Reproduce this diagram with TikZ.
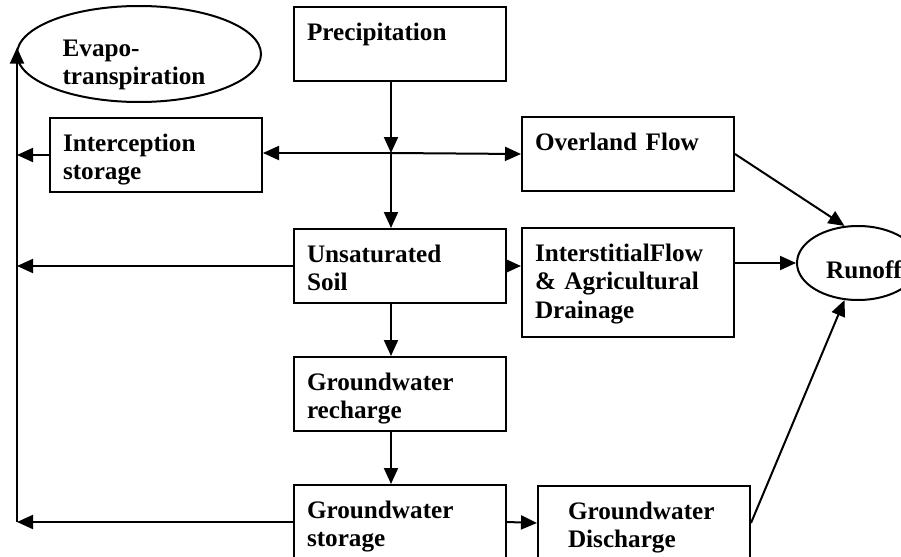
\documentclass[tikz,border=0pt]{standalone}
\usepackage{fontspec}
\setmainfont{Liberation Serif}
\usetikzlibrary{positioning}
\usetikzlibrary{shapes.geometric}
\usetikzlibrary{arrows.meta}

\begin{document}
\begin{tikzpicture}[x=0.5pt, y=-0.5pt, line width=1pt, >={Triangle[length=8pt, width=7pt]},
	every node/.style={font=\fontsize{12.6}{14.4}\selectfont\bfseries},
	stage/.style={draw, rectangle, anchor=north west, align=left, text width=93pt, inner xsep=6.5pt, inner ysep=0pt, text height=16.5pt, text depth=20.5pt},
	bubble/.style={draw, ellipse, inner sep=0pt}]
					\useasboundingbox (0, 0) rectangle (901, 557);
					\clip (0, 0) rectangle (901, 557);
					\node[bubble, minimum width=122pt, minimum height=48pt, label={[align=left, xshift=-2.5pt, yshift=-5.5pt]center:Evapo-\\transpiration}] (evap) at (139, 54) {};
					\node[stage] (prec) at (293, 6) {Precipitation};
					\node[stage] (icpt) at (49, 117) {Interception\\storage};
					\node[stage] (over) at (521, 116) {Overland Flow};
					\node[stage] (unsat) at (293, 228) {Unsaturated\\Soil};
					\node[stage, text depth=38pt] (inter) at (521, 227) {InterstitialFlow\\\& Agricultural\\Drainage};
					\node[stage] (rech) at (293, 356) {Groundwater\\recharge};
					\node[stage] (store) at (293, 484) {Groundwater\\storage};
					\node[stage, text width=76pt, inner xsep=15pt] (disch) at (537, 485) {Groundwater\\Discharge};
					\node[bubble, minimum width=61pt, minimum height=37pt, label={[xshift=3pt, yshift=-3.5pt]center:Runoff}] (runoff) at (858, 263) {};
					\coordinate (jn) at (391, 153);
					\coordinate (base) at (17, 522);
					\draw[->] (jn |- prec.south) -- (jn);
					\draw[->] (jn) -- (jn |- unsat.north);
					\draw[->] (jn) -- (jn -| icpt.east);
					\draw[->] (jn) -- (over.west);
					\draw[->] (over.east) -- (runoff.110);
					\draw[->] (unsat.east) -- (unsat.east -| inter.west);
					\draw[->] (inter.east |- runoff) -- (runoff.west);
					\draw[->] (jn |- unsat.south) -- (jn |- rech.north);
					\draw[->] (jn |- rech.south) -- (jn |- store.north);
					\draw[->] (store.east) -- (disch.west);
					\draw[->] (disch.east) -- (runoff.250);
					\draw[->] (base) -- (base |- evap.177);
					\draw[->] (icpt.west) -- (icpt.west -| base);
					\draw[->] (unsat.west) -- (unsat.west -| base);
					\draw[->] (store.west) -- (base);
				\end{tikzpicture}
\end{document}
